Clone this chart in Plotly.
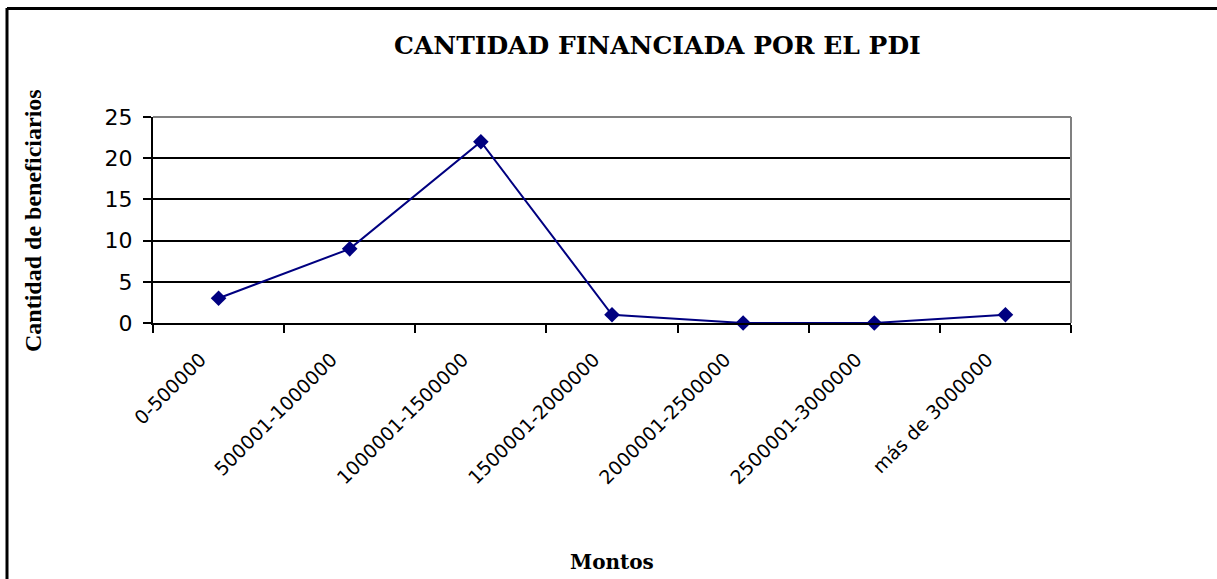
import plotly.graph_objects as go

categories = ["0-500000", "500001-1000000", "1000001-1500000", "1500001-2000000",
              "2000001-2500000", "2500001-3000000", "más de 3000000"]
beneficiarios = [3, 9, 22, 1, 0, 0, 1]
y_ticks = [0, 5, 10, 15, 20, 25]

W, H = 1217, 579
L, R, T, B = 153, 146, 117, 256
pw, ph = W - L - R, H - T - B

def px(x):
    return (x - L) / pw

def py(y):
    return (H - B - y) / ph

fig = go.Figure()
fig.add_trace(go.Scatter(
    x=categories, y=beneficiarios, mode="lines+markers",
    line=dict(color="#000080", width=2),
    marker=dict(symbol="diamond", size=12, color="#000080"),
    showlegend=False, cliponaxis=False, hoverinfo="skip",
))

serif_wide = "DejaVu Serif, serif"
serif = "Liberation Serif, Times New Roman, serif"
sans = "DejaVu Sans, Arial, sans-serif"

fig.update_layout(
    width=W, height=H,
    margin=dict(l=L, r=R, t=T, b=B),
    paper_bgcolor="white", plot_bgcolor="white",
    xaxis=dict(
        type="category", tickson="boundaries", ticks="outside", ticklen=8,
        tickwidth=2, tickcolor="black", tickangle=-45,
        tickfont=dict(family=sans, size=19, color="black"),
        ticklabelstandoff=16, ticklabelshift=-18,
        showline=True, linecolor="black", linewidth=2, showgrid=False,
        range=[-0.5, len(categories) - 0.5],
    ),
    yaxis=dict(
        range=[0, 25], tickvals=y_ticks, ticks="outside", ticklen=8,
        tickwidth=2, tickcolor="black",
        tickfont=dict(family=sans, size=22, color="black"),
        ticklabelstandoff=6,
        showline=True, linecolor="black", linewidth=2,
        showgrid=True, gridcolor="black", gridwidth=1.5, zeroline=False,
    ),
    shapes=[
        dict(type="line", xref="paper", yref="paper", x0=0, x1=1, y0=1, y1=1,
             line=dict(color="#808080", width=2), layer="above"),
        dict(type="line", xref="paper", yref="paper", x0=1, x1=1, y0=0, y1=1,
             line=dict(color="#808080", width=2), layer="above"),
        dict(type="line", xref="paper", yref="paper", x0=px(7), x1=px(7), y0=py(8), y1=py(600),
             line=dict(color="black", width=3)),
        dict(type="line", xref="paper", yref="paper", x0=px(7), x1=px(1230), y0=py(8.5), y1=py(8.5),
             line=dict(color="black", width=3)),
    ],
    annotations=[
        dict(text="<b>CANTIDAD FINANCIADA POR EL PDI</b>", xref="paper", yref="paper",
             x=px(657), y=py(46), showarrow=False, xanchor="center", yanchor="middle",
             font=dict(family=serif_wide, size=25, color="black")),
        dict(text="<b>Cantidad de beneficiarios</b>", xref="paper", yref="paper",
             x=px(33), y=py(221), showarrow=False, xanchor="center", yanchor="middle",
             textangle=-90, font=dict(family=serif, size=24, color="black")),
        dict(text="<b>Montos</b>", xref="paper", yref="paper",
             x=px(612), y=py(562), showarrow=False, xanchor="center", yanchor="middle",
             font=dict(family=serif_wide, size=20, color="black")),
    ],
)

fig.write_html("out.html", config={"displayModeBar": False},
               post_script="document.body.style.margin='0';document.body.style.overflow='hidden';")
